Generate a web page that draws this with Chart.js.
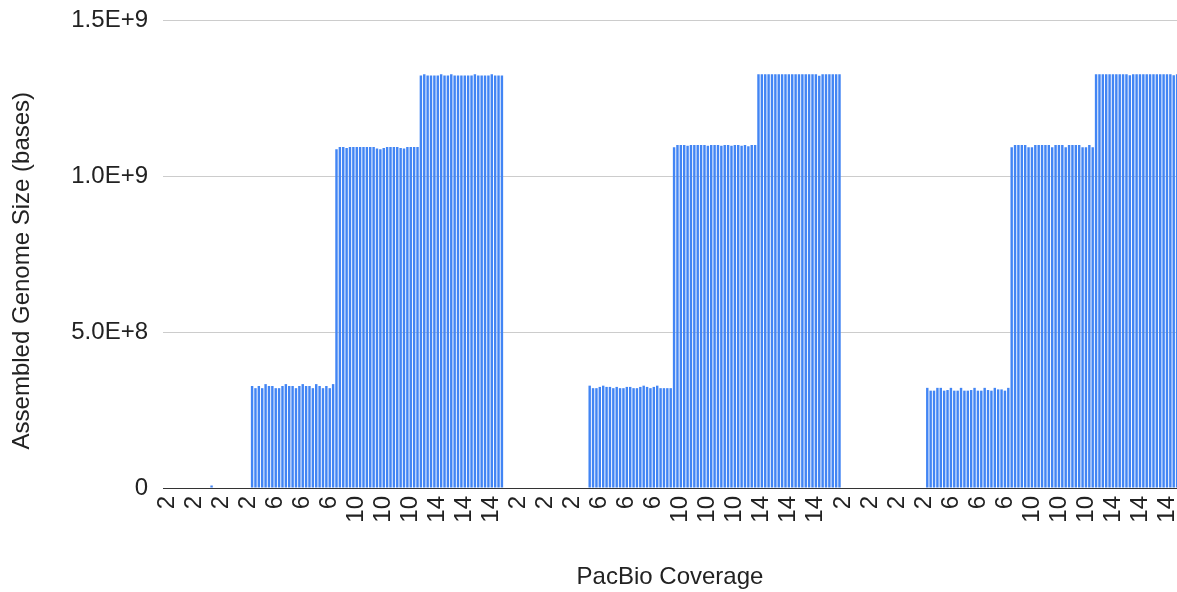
<!DOCTYPE html>
<html>
<head>
<meta charset="utf-8">
<title>Assembled Genome Size by PacBio Coverage</title>
<script src="https://cdn.jsdelivr.net/npm/chart.js@4/dist/chart.umd.min.js"></script>
<style>
  html, body { margin: 0; padding: 0; background: #ffffff; overflow: hidden; }
  #wrap { width: 1177px; height: 592px; }
</style>
</head>
<body>
<div id="wrap"><canvas id="chart" width="1177" height="592"></canvas></div>
<script>
// PacBio coverage level of each run group (three blocks of 2, 6, 10, 14)
const groupCoverage = [2, 6, 10, 14, 2, 6, 10, 14, 2, 6, 10, 14];

// Assembled genome size (bases) for the 25 runs in each group
const blockA_cov2 = [0, 0, 0, 0, 0, 0, 0, 0, 0, 0, 0, 0, 0, 8e6, 0, 0, 0, 0, 0, 0, 0, 0, 0, 0, 0];
const blockA_cov6 = [3.27e8, 3.20e8, 3.27e8, 3.20e8, 3.33e8, 3.27e8, 3.27e8, 3.20e8, 3.20e8, 3.27e8, 3.33e8, 3.27e8, 3.27e8,
                     3.20e8, 3.27e8, 3.33e8, 3.27e8, 3.27e8, 3.20e8, 3.33e8, 3.27e8, 3.20e8, 3.27e8, 3.20e8, 3.33e8];
const blockA_cov10 = [1.086e9, 1.093e9, 1.093e9, 1.090e9, 1.093e9, 1.093e9, 1.093e9, 1.093e9, 1.093e9, 1.093e9, 1.093e9, 1.093e9, 1.088e9,
                      1.086e9, 1.090e9, 1.093e9, 1.093e9, 1.093e9, 1.093e9, 1.090e9, 1.088e9, 1.093e9, 1.093e9, 1.093e9, 1.093e9];
const blockA_cov14 = [1.322e9, 1.326e9, 1.322e9, 1.322e9, 1.322e9, 1.322e9, 1.326e9, 1.322e9, 1.322e9, 1.326e9, 1.322e9, 1.322e9, 1.322e9,
                      1.322e9, 1.322e9, 1.322e9, 1.326e9, 1.322e9, 1.322e9, 1.322e9, 1.322e9, 1.326e9, 1.322e9, 1.322e9, 1.322e9];
const blockB_cov2 = [0, 0, 0, 0, 0, 0, 0, 0, 0, 0, 0, 0, 0, 0, 0, 0, 0, 0, 0, 0, 0, 0, 0, 0, 0];
const blockB_cov6 = [3.28e8, 3.20e8, 3.20e8, 3.24e8, 3.28e8, 3.24e8, 3.24e8, 3.20e8, 3.24e8, 3.20e8, 3.20e8, 3.24e8, 3.24e8,
                     3.20e8, 3.20e8, 3.24e8, 3.28e8, 3.24e8, 3.20e8, 3.24e8, 3.28e8, 3.20e8, 3.20e8, 3.20e8, 3.20e8];
const blockB_cov10 = [1.092e9, 1.099e9, 1.099e9, 1.099e9, 1.097e9, 1.099e9, 1.099e9, 1.099e9, 1.099e9, 1.099e9, 1.097e9, 1.099e9, 1.099e9,
                      1.099e9, 1.097e9, 1.099e9, 1.099e9, 1.097e9, 1.099e9, 1.099e9, 1.097e9, 1.099e9, 1.095e9, 1.099e9, 1.099e9];
const blockB_cov14 = [1.326e9, 1.326e9, 1.326e9, 1.326e9, 1.326e9, 1.326e9, 1.326e9, 1.326e9, 1.326e9, 1.326e9, 1.326e9, 1.326e9, 1.326e9,
                      1.326e9, 1.326e9, 1.326e9, 1.326e9, 1.326e9, 1.321e9, 1.326e9, 1.326e9, 1.326e9, 1.326e9, 1.326e9, 1.326e9];
const blockC_cov2 = [0, 0, 0, 0, 0, 0, 0, 0, 0, 0, 0, 0, 0, 0, 0, 0, 0, 0, 0, 0, 0, 0, 0, 0, 0];
const blockC_cov6 = [3.21e8, 3.12e8, 3.12e8, 3.21e8, 3.21e8, 3.12e8, 3.14e8, 3.21e8, 3.12e8, 3.12e8, 3.21e8, 3.12e8, 3.12e8,
                     3.14e8, 3.21e8, 3.12e8, 3.12e8, 3.21e8, 3.14e8, 3.12e8, 3.21e8, 3.16e8, 3.16e8, 3.12e8, 3.21e8];
const blockC_cov10 = [1.092e9, 1.099e9, 1.099e9, 1.099e9, 1.099e9, 1.092e9, 1.092e9, 1.099e9, 1.099e9, 1.099e9, 1.099e9, 1.099e9, 1.092e9,
                      1.099e9, 1.099e9, 1.099e9, 1.092e9, 1.099e9, 1.099e9, 1.099e9, 1.099e9, 1.092e9, 1.092e9, 1.099e9, 1.092e9];
const blockC_cov14 = [1.326e9, 1.326e9, 1.326e9, 1.326e9, 1.326e9, 1.326e9, 1.326e9, 1.326e9, 1.326e9, 1.326e9, 1.323e9, 1.326e9, 1.326e9,
                      1.326e9, 1.326e9, 1.326e9, 1.326e9, 1.326e9, 1.326e9, 1.326e9, 1.326e9, 1.326e9, 1.326e9, 1.323e9, 1.326e9];

// Y axis tick values
const yTicks = [0, 5e8, 1e9, 1.5e9];

const groupValues = [
  blockA_cov2, blockA_cov6, blockA_cov10, blockA_cov14,
  blockB_cov2, blockB_cov6, blockB_cov10, blockB_cov14,
  blockC_cov2, blockC_cov6, blockC_cov10, blockC_cov14
];

// One category per run, labelled with its coverage
const categories = [];
const sizes = [];
groupValues.forEach((vals, g) => {
  vals.forEach(v => { categories.push(String(groupCoverage[g])); sizes.push(v); });
});

// Every 8th run gets a visible coverage label
const LABEL_STEP = 8;
const labelIndices = categories.map((c, i) => i).filter(i => i % LABEL_STEP === 0);

const FONT = "Arial, 'Liberation Sans', Helvetica, sans-serif";
const TEXT = '#222222';
const FONT_SIZE = 24;

new Chart(document.getElementById('chart'), {
  type: 'bar',
  data: {
    datasets: [{
      data: sizes.map((v, i) => ({ x: i, y: v })),
      backgroundColor: '#4285f4',
      borderWidth: 0,
      barPercentage: 0.72,
      categoryPercentage: 1.0
    }]
  },
  options: {
    responsive: false,
    animation: false,
    devicePixelRatio: 1,
    layout: { padding: { top: 20, right: 0, bottom: 0, left: 0 } },
    plugins: { legend: { display: false }, tooltip: { enabled: false } },
    scales: {
      x: {
        type: 'linear',
        offset: false,
        min: -1.39,
        max: 298.97,
        grid: { display: false, drawTicks: false },
        border: { display: true, color: '#333333', width: 1 },
        afterBuildTicks: (scale) => { scale.ticks = labelIndices.map(i => ({ value: i })); },
        ticks: {
          autoSkip: false,
          maxRotation: 90,
          minRotation: 90,
          padding: 8,
          color: TEXT,
          font: { family: FONT, size: FONT_SIZE },
          callback: (value) => categories[value]
        },
        title: {
          display: true,
          text: 'PacBio Coverage',
          color: TEXT,
          font: { family: FONT, size: FONT_SIZE },
          padding: { top: 0, bottom: 0 }
        },
        afterFit: (scale) => {
          scale.height = 104;
          scale.paddingLeft = 0;
          scale.paddingRight = 0;
        }
      },
      y: {
        min: 0,
        max: 1.5e9,
        border: { display: false },
        grid: {
          drawTicks: false,
          lineWidth: 1,
          color: (ctx) => (ctx.tick && ctx.tick.value === 0 ? '#333333' : '#cccccc')
        },
        afterBuildTicks: (scale) => { scale.ticks = yTicks.map(v => ({ value: v })); },
        ticks: {
          padding: 15,
          color: TEXT,
          font: { family: FONT, size: FONT_SIZE },
          callback: (value) => (value === 0 ? '0' : Number(value).toExponential(1).toUpperCase())
        },
        title: {
          display: true,
          // trailing spaces lower the rotated title a little below the axis centre
          text: 'Assembled Genome Size (bases)\u00a0\u00a0\u00a0\u00a0\u00a0',
          color: TEXT,
          font: { family: FONT, size: FONT_SIZE },
          padding: { top: 8, bottom: 0 }
        },
        afterFit: (scale) => {
          scale.width = 163;
          scale.paddingTop = 0;
          scale.paddingBottom = 0;
        }
      }
    }
  }
});
</script>
</body>
</html>
